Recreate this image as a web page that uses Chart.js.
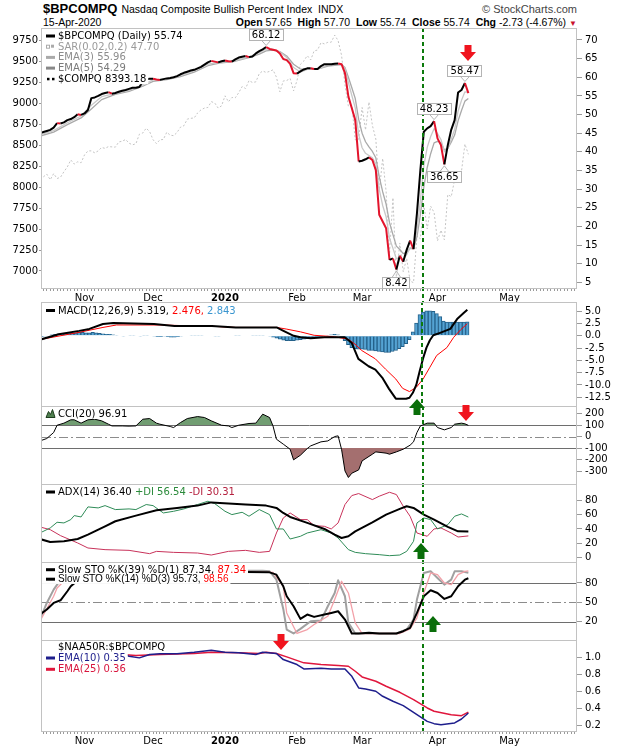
<!DOCTYPE html>
<html lang="en">
<head>
<meta charset="utf-8">
<title>$BPCOMPQ</title>
<script src="https://cdn.jsdelivr.net/npm/chart.js@4.4.1/dist/chart.umd.min.js"></script>
<style>
  html, body { margin: 0; padding: 0; background: #fff; }
  #page { position: relative; width: 620px; height: 750px; overflow: hidden; background: #fff;
          font-family: "Liberation Sans", Arial, sans-serif; color: #000; }
  #page canvas { position: absolute; left: 0; }
  .hdr { position: absolute; left: 43px; width: 534px; display: flex; align-items: baseline; white-space: nowrap; }
  .sym { font-weight: bold; font-size: 13px; }
  .name { font-size: 10.5px; margin-left: 4px; }
  .brand { margin-left: auto; font-size: 11px; color: #444; }
  .quote { margin-left: auto; font-size: 10.5px; }
  .dn { color: #c8102e; font-size: 8px; margin-left: 3px; }
</style>
</head>
<body>
<div id="page">
  <div class="hdr" style="top:1px">
    <span class="sym">$BPCOMPQ</span>
    <span class="name">Nasdaq Composite Bullish Percent Index&nbsp;&nbsp;INDX</span>
    <span class="brand">© StockCharts.com</span>
  </div>
  <div class="hdr" style="top:16px; font-size:10.5px">
    <span>15-Apr-2020</span>
    <span class="quote"><b>Open</b> 57.65&nbsp; <b>High</b> 57.70&nbsp; <b>Low</b> 55.74&nbsp; <b>Close</b> 55.74&nbsp; <b>Chg</b> -2.73 (-4.67%)<span class="dn">▼</span></span>
  </div>
  <canvas id="mainChart" width="620" height="294" style="top:9px"></canvas>
  <canvas id="macdChart" width="620" height="144" style="top:283px"></canvas>
  <canvas id="cciChart" width="620" height="118" style="top:387px"></canvas>
  <canvas id="adxChart" width="620" height="118" style="top:465px"></canvas>
  <canvas id="stoChart" width="620" height="118" style="top:543px"></canvas>
  <canvas id="ratioChart" width="620" height="129" style="top:621px"></canvas>
</div>
<script>
// x = trading-day index: 0 = 15-Oct-2019 ... 125 = 15-Apr-2020
const monthDays = [13, 33, 54, 75, 94, 116, 137];
const monthNames = ['Nov', 'Dec', '2020', 'Feb', 'Mar', 'Apr', 'May'];
const markerDay = 111.7;

const bpTicks = [70, 65, 60, 55, 50, 45, 40, 35, 30, 25, 20, 15, 10, 5];
const compqTicks = [9750, 9500, 9250, 9000, 8750, 8500, 8250, 8000, 7750, 7500, 7250, 7000];
const macdTicks = [5, 2.5, 0, -2.5, -5, -7.5, -10, -12.5];
const cciTicks = [200, 100, 0, -100, -200, -300];
const adxTicks = [80, 60, 40, 20, 0];
const stoTicks = [80, 50, 20];
const ratioTicks = [1.0, 0.8, 0.6, 0.4, 0.2];

// $BPCOMPQ daily close
const bpcompq = [
  45.0, 45.3, 45.6, 45.9, 46.5, 47.7, 47.6, 47.9, 48.5, 48.8,
  49.3, 50.1, 49.9, 50.3, 51.2, 54.4, 54.6, 55.0, 55.5, 55.8,
  56.0, 55.6, 55.8, 56.1, 56.4, 56.6, 56.9, 57.2, 57.2, 57.4,
  58.8, 59.5, 59.6, 59.6, 59.4, 59.3, 59.5, 59.7, 59.8, 60.0,
  60.3, 60.8, 61.2, 61.5, 61.8, 62.0, 62.4, 62.8, 63.4, 64.0,
  64.4, 64.2, 64.0, 64.3, 64.5, 64.3, 64.2, 64.8, 65.3, 65.5,
  65.7, 65.4, 65.6, 66.4, 67.0, 67.5, 68.12, 67.6, 67.4, 67.2,
  66.4, 64.9, 64.6, 63.6, 61.1, 61.0, 61.6, 62.1, 62.4, 62.4,
  62.2, 62.2, 63.0, 63.5, 63.5, 63.5, 63.6, 63.7, 63.5, 61.1,
  54.8, 51.7, 48.5, 37.4, 37.6, 38.0, 38.5, 37.8, 35.1, 23.1,
  21.3, 19.5, 11.0, 11.4, 8.42, 12.1, 10.5, 13.7, 16.2, 13.9,
  23.5, 35.1, 45.4, 46.3, 46.9, 48.23, 43.6, 41.8, 36.65, 41.8,
  45.9, 48.5, 55.9, 56.6, 58.47, 55.74
];

// EMA overlays, [day, value]
const ema3 = [[0,44.6],[4,45.7],[8,47.8],[12,49.6],[15,52.5],[18,54.8],[22,55.7],[26,56.5],[30,58.0],[33,59.3],
  [37,59.5],[41,60.5],[45,61.7],[49,63.5],[53,64.1],[57,64.5],[61,65.5],[64,66.6],[66,67.6],[68,67.5],
  [70,66.8],[72,65.3],[74,62.6],[76,61.4],[78,62.1],[81,62.2],[84,63.3],[88,63.6],[89,62.3],[90,58.6],
  [91,55.1],[92,51.8],[93,44.6],[94,41.1],[95,39.6],[96,39.0],[97,38.4],[98,36.8],[99,29.9],[100,25.6],
  [101,22.6],[102,16.8],[103,14.1],[104,11.3],[105,11.7],[106,11.1],[107,12.4],[108,14.3],[109,14.1],[110,18.8],
  [111,27.0],[112,36.2],[113,41.2],[114,44.1],[115,46.2],[116,44.9],[117,43.3],[118,40.0],[119,40.9],[120,43.4],
  [121,46.0],[122,50.9],[123,53.8],[124,56.1],[125,55.96]];
const ema5 = [[0,44.2],[4,45.3],[8,47.3],[12,49.1],[15,51.5],[18,54.0],[22,55.4],[26,56.2],[30,57.6],[33,58.9],
  [37,59.4],[41,60.2],[45,61.4],[49,63.1],[53,63.9],[57,64.3],[61,65.3],[64,66.2],[66,67.1],[68,67.3],
  [70,66.9],[72,65.7],[74,63.5],[76,62.2],[78,62.2],[81,62.2],[84,63.0],[88,63.4],[89,62.6],[90,60.0],
  [91,57.2],[92,54.3],[93,48.7],[94,45.0],[95,42.7],[96,41.3],[97,40.1],[98,38.4],[99,33.3],[100,29.3],
  [101,26.0],[102,21.0],[103,17.8],[104,14.7],[105,13.8],[106,12.7],[107,13.0],[108,14.1],[109,14.0],[110,17.2],
  [111,23.1],[112,30.5],[113,35.8],[114,39.5],[115,42.4],[116,42.8],[117,42.5],[118,40.5],[119,40.9],[120,42.6],
  [121,44.5],[122,48.3],[123,51.1],[124,53.6],[125,54.29]];
const sarLast = 47.70;

// $COMPQ daily close (left axis)
const compq = [
  8148.71, 8124.18, 8156.85, 8089.54, 8162.99, 8104.30, 8119.79, 8185.80, 8243.12, 8325.99, 8276.85, 8303.98, 8292.36,
  8386.40, 8433.20, 8434.68, 8410.63, 8434.52, 8475.31, 8464.28, 8486.09, 8482.10, 8479.02, 8540.83, 8549.94, 8570.66,
  8526.73, 8506.21, 8519.88, 8632.49, 8647.93, 8705.18, 8665.47,
  8567.99, 8520.64, 8566.67, 8570.70, 8656.53, 8621.83, 8616.18, 8654.05, 8717.32, 8734.88, 8814.23, 8823.36, 8827.74,
  8887.22, 8924.96, 8945.65, 8952.88, 9022.39, 9006.62, 8945.99, 8972.60,
  9092.19, 9020.77, 9071.47, 9068.58, 9129.24, 9203.43, 9178.86, 9273.93, 9251.33, 9258.70, 9357.13, 9388.94, 9370.81,
  9383.77, 9402.48, 9314.91, 9139.31, 9269.68, 9275.16, 9298.93, 9150.94,
  9273.40, 9467.97, 9508.68, 9572.15, 9520.51, 9628.39, 9638.94, 9725.96, 9711.97, 9731.18, 9732.74, 9817.18, 9750.97,
  9576.59, 9221.28, 8965.61, 8980.78, 8566.48, 8567.37,
  8952.17, 8684.09, 9018.09, 8738.60, 8575.62, 7950.68, 8344.25, 7952.05, 7201.80, 7874.88, 6904.59, 7334.78, 6989.84,
  7150.58, 6879.52, 6860.67, 7417.86, 7384.30, 7797.54, 7502.38, 7774.15, 7700.10,
  7360.58, 7487.31, 7373.08, 7913.24, 7887.26, 8090.90, 8153.58, 8192.42, 8515.74, 8393.18
];

// MACD(12,26,9)
const macdLine = [[0,-0.7],[5,0.3],[11,1.0],[14,1.4],[18,2.4],[21,2.6],[27,2.5],[33,2.4],[39,2.0],[50,2.0],
  [57,1.7],[69,1.7],[71,1.0],[74,0.0],[76,-0.3],[79,-0.5],[83,-0.3],[89,-0.3],[91,-1.4],[93,-4.7],
  [96,-6.2],[98,-6.9],[100,-8.5],[102,-10.8],[104,-12.8],[107,-12.8],[108,-12.6],[109,-11.6],[110,-10.0],[111,-7.2],
  [112,-4.6],[113,-2.4],[114,-0.9],[115,0.1],[117,0.6],[120,1.4],[122,3.4],[124,4.7],[125,5.319]];
const macdSignal = [[0,-0.7],[11,0.7],[18,1.7],[22,2.2],[35,2.2],[45,2.0],[51,1.9],[57,1.7],[69,1.7],[72,1.35],
  [76,0.8],[80,0.1],[86,-0.2],[90,-0.7],[92,-1.7],[94,-3.0],[98,-4.7],[101,-6.8],[104,-8.8],[106,-10.7],
  [108,-11.35],[110,-10.5],[112,-8.8],[114,-6.4],[116,-4.0],[119,-2.4],[121,-0.3],[123,1.2],[125,2.476]];
const macdHist = [
  -0.2, -0.1, 0.0, 0.2, 0.3, 0.4, 0.5, 0.5, 0.6, 0.6,
  0.6, 0.7, 0.7, 0.6, 0.6, 0.7, 0.6, 0.5, 0.4, 0.3,
  0.3, 0.2, 0.1, 0.0, -0.1, 0.0, 0.1, 0.1, 0.0, -0.1,
  0.1, 0.1, 0.0, -0.1, -0.2, -0.2, -0.1, -0.2, -0.3, -0.3,
  -0.2, -0.1, 0.0, 0.0, 0.1, 0.1, 0.1, 0.1, 0.0, 0.0,
  0.0, -0.1, -0.1, 0.0, 0.0, 0.0, 0.0, 0.1, 0.1, 0.0,
  0.0, 0.0, 0.1, 0.1, 0.1, 0.1, 0.0, -0.1, -0.3, -0.5,
  -0.7, -0.9, -1.0, -1.0, -1.0, -0.9, -0.8, -0.7, -0.6, -0.5,
  -0.4, -0.3, -0.2, -0.1, 0.1, 0.2, 0.3, 0.2, -0.2, -1.0,
  -1.8, -2.4, -2.6, -2.7, -2.7, -2.8, -3.0, -3.0, -3.1, -3.2,
  -3.3, -3.4, -3.4, -3.2, -3.0, -2.6, -2.2, -1.6, -0.8, 0.8,
  2.6, 4.3, 4.8, 5.1, 5.1, 5.0, 4.5, 3.9, 3.0, 2.8,
  2.8, 2.8, 2.8, 2.8, 2.8, 2.843
];

// CCI(20)
const cci = [[0,-38],[2,-17],[4,35],[5,98],[7,116],[9,145],[10,145],[12,116],[14,145],[16,150],
  [18,136],[20,107],[21,92],[24,92],[26,90],[28,92],[30,150],[32,156],[34,116],[35,107],
  [38,87],[39,78],[41,121],[43,156],[46,173],[48,165],[50,136],[53,98],[55,92],[56,78],
  [58,98],[61,113],[63,116],[65,194],[67,165],[68,92],[69,-23],[71,-66],[73,-110],[74,-202],
  [76,-162],[78,-104],[79,-81],[82,-46],[84,-38],[86,0],[87,6],[88,-110],[89,-298],[90,-355],
  [91,-318],[93,-289],[94,-211],[97,-153],[98,-133],[101,-144],[102,-153],[104,-133],[106,-110],[108,-75],
  [109,-46],[110,35],[111,92],[113,116],[115,116],[116,78],[118,58],[120,78],[121,107],[123,116],
  [124,110],[125,96.91]];

// ADX(14), +DI, -DI
const adx = [[0,26],[3,21.9],[7,22.8],[11,26],[14,32],[19,43.7],[22,50.7],[28,58.6],[34,66],[40,69.3],
  [46,72.5],[50,77],[55,75.3],[60,74],[66,72.5],[69,69.3],[71,62.3],[73,56.7],[78,48.4],[83,40],
  [86,32],[88,27.4],[90,29.8],[92,36.7],[97,49.3],[101,60],[105,67.9],[107,71.6],[109,69.3],[112,60],
  [115,53],[119,42.8],[122,36.7],[125,36.40]];
const plusDI = [[0,34.4],[3,41.4],[5,49.3],[7,48.4],[9,53],[10,58.6],[12,56.7],[14,70.7],[17,69.3],[19,72.5],
  [22,67],[26,67.9],[28,67],[31,74],[33,72.5],[36,62.3],[39,64.6],[42,67.9],[46,74],[49,78.6],
  [51,75.3],[54,64.6],[56,60],[59,63.2],[61,57.7],[64,67],[67,60],[69,40],[71,40],[73,26],
  [76,29.8],[78,34.4],[82,39],[85,34.4],[87,27.4],[90,11.2],[92,7.4],[95,5.6],[99,4.2],[102,2.8],
  [105,3.7],[107,8.8],[109,22.8],[110,48.4],[112,55.3],[114,53],[116,40],[119,46],[121,57.7],[123,60.9],
  [125,56.54]];
const minusDI = [[0,42.8],[3,39],[6,30.7],[11,20.5],[14,13.5],[19,11.2],[26,10.2],[32,5.6],[34,8.8],[39,7.4],
  [46,6.5],[50,3.7],[55,8.8],[60,10.2],[64,7.4],[67,8.8],[69,34.4],[71,55.3],[73,62.3],[76,53],
  [78,53],[80,44.6],[83,43.7],[85,40],[87,48.4],[89,74],[91,86.5],[93,89.3],[97,80.9],[99,85.6],
  [102,91.1],[104,87.9],[106,71.6],[108,57.7],[110,34.4],[113,29.8],[115,40],[117,41.4],[120,34.4],[122,28.8],
  [125,30.31]];

// Slow stochastics
const stoK39 = [[0,31.3],[2,39],[4,49.2],[6,53.3],[8,67.2],[9,74.9],[11,84],[14,92],[20,96],[30,97],
  [40,98],[50,99],[60,97],[67,96.4],[69,92.8],[71,74.9],[72,59.5],[74,44.1],[76,24.6],[78,31.3],
  [80,27.7],[83,31.3],[85,33.8],[87,36.4],[89,23.6],[91,2.1],[93,2.1],[96,3.1],[99,2.1],[104,2.1],
  [106,5.6],[108,10.8],[110,33.8],[112,59.5],[114,68.7],[116,64.6],[118,55.4],[120,59.5],[122,74.9],[124,85.1],
  [125,87.34]];
const stoK14 = [[0,23.6],[2,49.2],[4,69.7],[6,85],[10,95],[20,98],[35,96],[50,99],[65,99],[67,98],
  [69,85.1],[71,40],[72,8],[74,2.1],[76,9.2],[79,21],[82,22],[84,44.1],[86,64.6],[87,84.1],
  [89,59.5],[90,18.5],[92,2.1],[104,2.1],[107,8.2],[109,23.6],[110,54.4],[112,95.4],[114,98],[116,87.7],
  [118,77.4],[120,85.1],[121,98],[123,98],[125,95.73]];
const stoD3 = [[0,21],[4,59.5],[5,72.3],[8,88],[12,95],[25,97],[45,98],[60,98],[68,96.4],[71,74.9],
  [72,33.8],[75,2.1],[78,8.2],[80,15.9],[84,28.7],[86,54.4],[88,82.6],[90,64.6],[92,18.5],[94,2.1],
  [105,2.1],[108,9.2],[110,26.2],[112,64.6],[114,95.4],[116,92.8],[118,80],[120,77.4],[122,92.8],[124,98],
  [125,98.56]];

// $NAA50R:$BPCOMPQ ratio EMAs
const ratioEma10 = [[0,1.03],[12,1.04],[20,1.04],[24,1.05],[26,1.02],[29,1.0],[32,1.04],[35,1.05],[40,1.05],[45,1.067],
  [50,1.09],[54,1.067],[58,1.059],[63,1.04],[65,1.067],[69,1.051],[71,0.98],[75,0.921],[77,0.87],[82,0.878],
  [85,0.87],[89,0.87],[91,0.783],[93,0.645],[95,0.634],[98,0.606],[100,0.547],[103,0.488],[106,0.437],[109,0.358],
  [113,0.251],[115,0.224],[117,0.212],[121,0.232],[123,0.279],[125,0.35]];
const ratioEma25 = [[0,1.03],[12,1.035],[20,1.04],[24,1.04],[28,1.028],[35,1.04],[45,1.051],[50,1.067],[58,1.059],[64,1.051],
  [66,1.067],[69,1.051],[72,1.012],[77,0.941],[82,0.921],[87,0.909],[90,0.901],[92,0.842],[94,0.775],[98,0.724],
  [101,0.665],[105,0.594],[109,0.507],[113,0.409],[115,0.37],[120,0.33],[123,0.318],[125,0.36]];

const PAD = 20;
const X_MIN = 0.6, X_MAX = 156.7;
const LEGEND_FONT = '10px "DejaVu Sans"';
const RED = '#f0141e', GREEN = '#0a6e0a';

const daily = vals => vals.map((v, i) => [i, v]);
const last = arr => { const p = arr[arr.length - 1]; return Array.isArray(p) ? p[1] : p; };

const dayTicks = [];
for (let d = 1; d <= 156; d++) dayTicks.push(d);

Chart.defaults.font.family = '"DejaVu Sans"';

function xAxis(height) {
  return {
    type: 'linear', min: X_MIN, max: X_MAX, display: height > 0,
    afterBuildTicks: axis => { axis.ticks = dayTicks.map(v => ({ value: v })); },
    afterFit: axis => { axis.height = height; axis.paddingLeft = 0; axis.paddingRight = 0; },
    grid: { drawOnChartArea: false, tickLength: 2, color: '#9a9a9a' },
    border: { display: false },
    ticks: {
      autoSkip: false, maxRotation: 0, minRotation: 0, padding: 1, color: '#000',
      font: c => ({ family: 'DejaVu Sans', size: 10, weight: c.tick && c.tick.value === 54 ? 'bold' : 'normal' }),
      callback: v => { const i = monthDays.indexOf(v); return i < 0 ? '' : monthNames[i]; }
    }
  };
}

function yAxis(position, min, max, ticks, width, fmt) {
  return {
    position, min, max,
    afterBuildTicks: axis => { axis.ticks = ticks.slice().sort((p, q) => p - q).map(v => ({ value: v })); },
    afterFit: axis => { axis.width = width; axis.paddingTop = 0; axis.paddingBottom = 0; },
    grid: { drawOnChartArea: false, tickLength: position === 'right' ? 5 : 3, color: '#9a9a9a' },
    border: { display: false },
    ticks: { autoSkip: false, padding: position === 'right' ? 3 : 1, color: '#000', font: { family: 'DejaVu Sans', size: 10 },
             callback: fmt || (v => String(v)) }
  };
}

function baseOptions(scales, left, bottom) {
  return {
    responsive: false, animation: false, events: [],
    layout: { padding: { left: left, right: 0, top: PAD, bottom: bottom } },
    elements: { point: { radius: 0 }, line: { tension: 0, borderJoinStyle: 'round' } },
    plugins: { legend: { display: false }, tooltip: { enabled: false } },
    scales
  };
}

function drawSwatch(ctx, kind, ink, x, cy) {
  ctx.fillStyle = ink; ctx.strokeStyle = ink; ctx.lineWidth = 1;
  if (kind === 'line') ctx.fillRect(x, cy - 1.5, 9, 3);
  else if (kind === 'dots') { ctx.fillRect(x + 1, cy - 1, 2.5, 2.5); ctx.fillRect(x + 6, cy - 1, 2.5, 2.5); }
  else if (kind === 'sar') { ctx.strokeRect(x + 0.5, cy - 1.5, 3, 3); ctx.fillRect(x + 5, cy - 2, 3, 3); }
  else if (kind === 'mountain') {
    ctx.beginPath();
    ctx.moveTo(x, cy + 4); ctx.lineTo(x + 2.5, cy - 2); ctx.lineTo(x + 4.5, cy + 1);
    ctx.lineTo(x + 6.5, cy - 4); ctx.lineTo(x + 9, cy + 4); ctx.closePath();
    ctx.fill(); ctx.strokeStyle = '#1d3d1d'; ctx.stroke();
  }
}

function drawArrow(ctx, x, tipY, dir, color) {
  const w = 16, head = 9, shaftW = 7, shaftH = 7;
  const s = dir === 'down' ? 1 : -1;
  ctx.fillStyle = color;
  ctx.beginPath();
  ctx.moveTo(x, tipY);
  ctx.lineTo(x - w / 2, tipY - s * head);
  ctx.lineTo(x - shaftW / 2, tipY - s * head);
  ctx.lineTo(x - shaftW / 2, tipY - s * (head + shaftH));
  ctx.lineTo(x + shaftW / 2, tipY - s * (head + shaftH));
  ctx.lineTo(x + shaftW / 2, tipY - s * head);
  ctx.lineTo(x + w / 2, tipY - s * head);
  ctx.closePath();
  ctx.fill();
}

function makePanel(spec) {
  return {
    id: 'panel',
    beforeDatasetsDraw(chart) {
      const { ctx, chartArea: a, scales } = chart;
      (spec.refLines || []).forEach(r => {
        const py = Math.round(scales.y.getPixelForValue(r.value)) + 0.5;
        ctx.save();
        ctx.strokeStyle = r.dash ? '#8c8c8c' : '#6e6e6e';
        ctx.lineWidth = 1;
        ctx.setLineDash(r.dash ? [9, 3, 2, 3] : []);
        ctx.beginPath(); ctx.moveTo(a.left, py); ctx.lineTo(a.right, py); ctx.stroke();
        ctx.restore();
      });
    },
    afterDatasetsDraw(chart) {
      const { ctx, chartArea: a, scales } = chart;
      ctx.save();

      // dashed date marker
      const mx = Math.round(scales.x.getPixelForValue(markerDay));
      const y0 = a.top, y1 = spec.markerToEnd ? chart.height : a.bottom;
      ctx.strokeStyle = '#0c7a0c'; ctx.lineWidth = 2;
      ctx.setLineDash([4, 3]);
      ctx.lineDashOffset = (chart.canvas.offsetTop + y0) % 7;
      ctx.beginPath(); ctx.moveTo(mx, y0); ctx.lineTo(mx, y1); ctx.stroke();
      ctx.setLineDash([]);

      // frame
      ctx.strokeStyle = '#c2c2c2'; ctx.lineWidth = 1;
      ctx.strokeRect(a.left - 0.5, a.top - 0.5, a.right - a.left, a.bottom - a.top);

      // legend rows on white
      const tx = a.left + 16;
      (spec.rows || []).forEach((r, i) => {
        const cy = a.top + spec.firstDy + i * spec.rowH;
        ctx.font = r.style || LEGEND_FONT;
        const w = r.parts.reduce((s, p) => s + ctx.measureText(p[0]).width, 0);
        ctx.fillStyle = '#fff';
        ctx.fillRect(a.left, cy - spec.rowH / 2, tx - a.left + w + 2, spec.rowH);
        if (r.swatch) drawSwatch(ctx, r.swatch, r.ink, a.left + 4, cy);
        let x = tx;
        ctx.textBaseline = 'middle'; ctx.textAlign = 'left';
        r.parts.forEach(p => { ctx.fillStyle = p[1]; ctx.fillText(p[0], x, cy + 0.5); x += ctx.measureText(p[0]).width; });
      });

      // boxed value labels
      (spec.labels || []).forEach(l => {
        const v = chart.data.datasets[0].data[l.i][1];
        const px = scales.x.getPixelForValue(l.i), py = scales.y.getPixelForValue(v);
        const txt = v.toFixed(2);
        ctx.font = LEGEND_FONT;
        const w = Math.round(ctx.measureText(txt).width) + 6, h = 12;
        const bx = Math.round(px - w / 2), by = Math.round(l.above ? py - 6 - h : py + 7);
        ctx.fillStyle = '#fff'; ctx.fillRect(bx, by, w, h);
        ctx.strokeStyle = '#b4b4b4'; ctx.lineWidth = 1;
        ctx.strokeRect(bx + 0.5, by + 0.5, w - 1, h - 1);
        const ey = l.above ? by + h : by;
        ctx.beginPath(); ctx.moveTo(px - 4, ey); ctx.lineTo(px, py + (l.above ? -1.5 : 1.5)); ctx.lineTo(px + 4, ey); ctx.stroke();
        ctx.fillStyle = '#000'; ctx.textAlign = 'center'; ctx.textBaseline = 'middle';
        ctx.fillText(txt, px, by + h / 2 + 0.5);
      });

      // signal arrows
      (spec.arrows || []).forEach(ar => {
        drawArrow(ctx, Math.round(scales.x.getPixelForValue(ar.x)), Math.round(scales.y.getPixelForValue(ar.y)), ar.dir, ar.color);
      });
      ctx.restore();
    }
  };
}

// Price panel
new Chart(document.getElementById('mainChart'), {
  type: 'line',
  data: {
    datasets: [
      { data: daily(bpcompq), yAxisID: 'y', borderColor: '#000', borderWidth: 2,
        segment: { borderColor: c => c.p1.parsed.y < c.p0.parsed.y ? '#e3142c' : '#000' } },
      { data: ema3, yAxisID: 'y', borderColor: '#c8c8c8', borderWidth: 1.3 },
      { data: ema5, yAxisID: 'y', borderColor: '#a9a9a9', borderWidth: 1.3 },
      { data: daily(compq), yAxisID: 'yL', borderColor: '#c4c4c4', borderWidth: 1, borderDash: [2, 2] }
    ]
  },
  options: baseOptions({
    x: xAxis(14),
    y: yAxis('right', 3.2, 72.95, bpTicks, 43),
    yL: yAxis('left', 6785, 9890, compqTicks, 42)
  }, 0, 0),
  plugins: [makePanel({
    markerToEnd: true, firstDy: 7, rowH: 10.7,
    rows: [
      { swatch: 'line', ink: '#000', parts: [['$BPCOMPQ (Daily) ' + last(bpcompq).toFixed(2), '#000']] },
      { swatch: 'sar', ink: '#aaa', parts: [['SAR(0.02,0.2) ' + sarLast.toFixed(2), '#9a9a9a']] },
      { swatch: 'line', ink: '#aaa', parts: [['EMA(3) ' + last(ema3).toFixed(2), '#8c8c8c']] },
      { swatch: 'line', ink: '#888', parts: [['EMA(5) ' + last(ema5).toFixed(2), '#7a7a7a']] },
      { swatch: 'dots', ink: '#000', parts: [['$COMPQ ' + last(compq).toFixed(2), '#000']] }
    ],
    labels: [{ i: 66, above: true }, { i: 104, above: false }, { i: 115, above: true }, { i: 118, above: false }, { i: 124, above: true }],
    arrows: [{ x: 125, y: 64.4, dir: 'down', color: RED }]
  })]
});

// MACD panel
new Chart(document.getElementById('macdChart'), {
  type: 'line',
  data: {
    datasets: [
      { data: macdLine, borderColor: '#000', borderWidth: 2 },
      { data: macdSignal, borderColor: '#ff0000', borderWidth: 1 },
      { type: 'bar', data: macdHist.map((v, i) => ({ x: i, y: v })),
        backgroundColor: '#54a3d3', borderColor: '#24618a', borderWidth: 1,
        barPercentage: 1, categoryPercentage: 1 }
    ]
  },
  options: baseOptions({
    x: xAxis(0),
    y: yAxis('right', -14.49, 6.67, macdTicks, 43, v => v.toFixed(1))
  }, 42, PAD),
  plugins: [makePanel({
    firstDy: 7.5, rowH: 11,
    rows: [{ swatch: 'line', ink: '#000', parts: [
      ['MACD(12,26,9) ' + last(macdLine).toFixed(3) + ', ', '#000'],
      [last(macdSignal).toFixed(3) + ', ', '#ff0000'],
      [last(macdHist).toFixed(3), '#3a96d0']] }]
  })]
});

// CCI panel
new Chart(document.getElementById('cciChart'), {
  type: 'line',
  data: {
    datasets: [
      { data: cci, borderColor: '#000', borderWidth: 1 },
      { data: cci, borderColor: 'transparent', borderWidth: 0,
        fill: { target: { value: 100 }, above: '#719d72', below: 'transparent' } },
      { data: cci, borderColor: 'transparent', borderWidth: 0,
        fill: { target: { value: -100 }, above: 'transparent', below: '#a46f6f' } }
    ]
  },
  options: baseOptions({
    x: xAxis(0),
    y: yAxis('right', -420, 256, cciTicks, 43)
  }, 42, PAD),
  plugins: [makePanel({
    firstDy: 6.5, rowH: 11,
    refLines: [{ value: 100 }, { value: -100 }, { value: 0, dash: true }],
    rows: [{ swatch: 'mountain', ink: '#4f7f4f', parts: [['CCI(20) ' + last(cci).toFixed(2), '#000']] }],
    arrows: [{ x: 124.2, y: 133, dir: 'down', color: RED }, { x: 110, y: 327, dir: 'up', color: GREEN }]
  })]
});

// ADX panel
new Chart(document.getElementById('adxChart'), {
  type: 'line',
  data: {
    datasets: [
      { data: adx, borderColor: '#000', borderWidth: 2 },
      { data: plusDI, borderColor: '#2e8b57', borderWidth: 1 },
      { data: minusDI, borderColor: '#c8325a', borderWidth: 1 }
    ]
  },
  options: baseOptions({
    x: xAxis(0),
    y: yAxis('right', -7.4, 101.2, adxTicks, 43)
  }, 42, PAD),
  plugins: [makePanel({
    firstDy: 7, rowH: 11,
    rows: [{ swatch: 'line', ink: '#000', parts: [
      ['ADX(14) ' + last(adx).toFixed(2) + ' ', '#000'],
      ['+DI ' + last(plusDI).toFixed(2) + ' ', '#2a8a3a'],
      ['-DI ' + last(minusDI).toFixed(2), '#b5213f']] }],
    arrows: [{ x: 111.3, y: 20.5, dir: 'up', color: GREEN }]
  })]
});

// Stochastics panel
new Chart(document.getElementById('stoChart'), {
  type: 'line',
  data: {
    datasets: [
      { data: stoK39, borderColor: '#000', borderWidth: 2 },
      { data: stoD3, borderColor: '#f2a0a8', borderWidth: 1.3 },
      { data: stoK14, borderColor: '#a0a0a0', borderWidth: 2 }
    ]
  },
  options: baseOptions({
    x: xAxis(0),
    y: yAxis('right', -9.5, 110.8, stoTicks, 43)
  }, 42, PAD),
  plugins: [makePanel({
    firstDy: 6.7, rowH: 9.5,
    refLines: [{ value: 80 }, { value: 20 }, { value: 50, dash: true }],
    rows: [
      { swatch: 'line', ink: '#000', parts: [['Slow STO %K(39) %D(1) ' + last(stoK39).toFixed(2) + ', ', '#000'], [last(stoK39).toFixed(2), '#ff0000']] },
      { swatch: 'line', ink: '#000', style: '10px "Liberation Sans"',
        parts: [['Slow STO %K(14) %D(3) ' + last(stoK14).toFixed(2) + ', ', '#000'], [last(stoD3).toFixed(2), '#ff0000']] }
    ],
    arrows: [{ x: 114.7, y: 28.6, dir: 'up', color: GREEN }]
  })]
});

// Ratio panel
new Chart(document.getElementById('ratioChart'), {
  type: 'line',
  data: {
    datasets: [
      { data: ratioEma10, borderColor: '#1e1e8c', borderWidth: 1.5 },
      { data: ratioEma25, borderColor: '#e0163c', borderWidth: 1.5 }
    ]
  },
  options: baseOptions({
    x: xAxis(18),
    y: yAxis('right', 0.1255, 1.199, ratioTicks, 43, v => v.toFixed(1))
  }, 42, 0),
  plugins: [makePanel({
    firstDy: 5.7, rowH: 11.3,
    rows: [
      { parts: [['$NAA50R:$BPCOMPQ', '#000']] },
      { swatch: 'line', ink: '#1e1e8c', parts: [['EMA(10) ' + last(ratioEma10).toFixed(2), '#1e1e8c']] },
      { swatch: 'line', ink: '#e0163c', parts: [['EMA(25) ' + last(ratioEma25).toFixed(2), '#d8143c']] }
    ],
    arrows: [{ x: 70.4, y: 1.098, dir: 'down', color: RED }]
  })]
});
</script>
</body>
</html>
